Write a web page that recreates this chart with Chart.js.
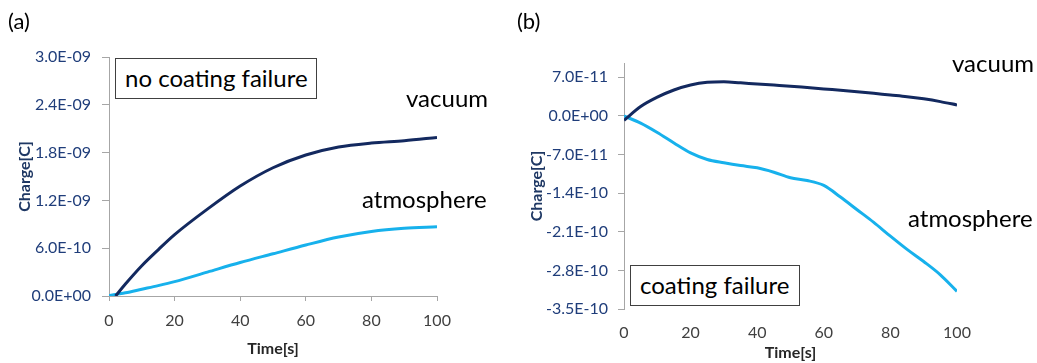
<!DOCTYPE html>
<html>
<head>
<meta charset="utf-8">
<title>Charge vs time</title>
<script src="https://cdn.jsdelivr.net/npm/chart.js@4.4.1/dist/chart.umd.min.js"></script>
<style>
  body { margin: 0; background: #fff; width: 1037px; height: 363px; overflow: hidden; position: relative; font-family: Lato, sans-serif; }
  .panel { position: absolute; top: 0; height: 363px; }
  #panelA { left: 0; width: 517px; }
  #panelB { left: 517px; width: 520px; }
  .note { position: absolute; font-size: 24px; line-height: 24px; color: #000; white-space: nowrap; }
  .tag { position: absolute; font-size: 22px; line-height: 22px; color: #000; }
  .box { position: absolute; box-sizing: border-box; border: 1px solid #404040; background: #fff;
         font-size: 24px; line-height: 37px; padding-left: 9px; white-space: nowrap; }
</style>
</head>
<body>

<div class="panel" id="panelA"><canvas id="chartA" width="517" height="363"></canvas></div>
<div class="panel" id="panelB"><canvas id="chartB" width="520" height="363"></canvas></div>

<div class="tag" style="left:8px; top:10px;">(a)</div>
<div class="tag" style="left:517px; top:10px;">(b)</div>

<div class="box" style="left:115px; top:58px; width:202px; height:41px;">no coating failure</div>
<div class="note" style="left:406px; top:86px;">vacuum</div>
<div class="note" style="left:362px; top:187px;">atmosphere</div>

<div class="box" style="left:630px; top:265px; width:170px; height:41px;">coating failure</div>
<div class="note" style="left:952px; top:51px;">vacuum</div>
<div class="note" style="left:908px; top:206px;">atmosphere</div>

<script>
// (a) no coating failure
const timeA = [0, 2, 5, 10, 15, 20, 30, 40, 50, 60, 70, 80, 90, 100];
const vacuumA = [null, 0, 1.5e-10, 3.8e-10, 5.8e-10, 7.7e-10, 1.09e-9, 1.38e-9, 1.61e-9, 1.77e-9, 1.87e-9, 1.92e-9, 1.95e-9, 1.99e-9];
const atmosphereA = [0.05e-10, 0.2e-10, 0.4e-10, 0.85e-10, 1.3e-10, 1.8e-10, 3.0e-10, 4.2e-10, 5.3e-10, 6.4e-10, 7.4e-10, 8.1e-10, 8.5e-10, 8.7e-10];
const yTicksA = [0, 6e-10, 1.2e-9, 1.8e-9, 2.4e-9, 3e-9];
const yLabelsA = ['0.0E+00', '6.0E-10', '1.2E-09', '1.8E-09', '2.4E-09', '3.0E-09'];

// (b) coating failure
const timeB = [0, 5, 10, 15, 20, 25, 30, 35, 40, 45, 50, 55, 60, 65, 70, 75, 80, 85, 90, 95, 100];
const vacuumB = [-0.8e-11, 1.7e-11, 3.4e-11, 4.7e-11, 5.6e-11, 6.1e-11, 6.2e-11, 6.0e-11, 5.8e-11, 5.6e-11, 5.4e-11, 5.15e-11, 4.9e-11, 4.65e-11, 4.4e-11, 4.1e-11, 3.8e-11, 3.5e-11, 3.1e-11, 2.6e-11, 2.0e-11];
const atmosphereB = [0, -1.3e-11, -3.0e-11, -4.9e-11, -6.7e-11, -7.9e-11, -8.5e-11, -9.0e-11, -9.4e-11, -1.02e-10, -1.12e-10, -1.17e-10, -1.26e-10, -1.47e-10, -1.70e-10, -1.93e-10, -2.18e-10, -2.42e-10, -2.64e-10, -2.88e-10, -3.18e-10];
const yTicksB = [-3.5e-10, -2.8e-10, -2.1e-10, -1.4e-10, -7e-11, 0, 7e-11];
const yLabelsB = ['-3.5E-10', '-2.8E-10', '-2.1E-10', '-1.4E-10', '-7.0E-11', '0.0E+00', '7.0E-11'];

const xTicks = [0, 20, 40, 60, 80, 100];

const navy = '#13295f';
const sky = '#17b1ec';
const axisGray = '#a6a6a6';

function points(t, v) {
  return t.map((x, i) => ({ x: x, y: v[i] }));
}

function line(data, color) {
  return {
    data: data,
    borderColor: color,
    borderWidth: 3,
    pointRadius: 0,
    fill: false,
    cubicInterpolationMode: 'monotone'
  };
}

function buildChart(id, cfg) {
  return new Chart(document.getElementById(id), {
    type: 'line',
    data: {
      datasets: [
        line(points(cfg.time, cfg.vacuum), navy),
        line(points(cfg.time, cfg.atmosphere), sky)
      ]
    },
    options: {
      responsive: false,
      animation: false,
      devicePixelRatio: 1,
      layout: { padding: { left: 0, top: cfg.top, right: 80, bottom: 0 } },
      plugins: { legend: { display: false }, tooltip: { enabled: false } },
      scales: {
        x: {
          type: 'linear', min: 0, max: 100,
          afterBuildTicks: s => { s.ticks = xTicks.map(v => ({ value: v })); },
          afterFit: s => { s.height = cfg.xHeight; },
          ticks: { color: '#404040', font: { family: 'Lato', size: 16 }, padding: cfg.xPad, maxRotation: 0 },
          grid: cfg.xAxisLine
            ? { drawOnChartArea: false, tickLength: 5, color: axisGray }
            : { display: false, drawTicks: false, tickLength: 0 },
          border: { display: cfg.xAxisLine, color: axisGray },
          title: {
            display: true, text: 'Time[s]', color: '#262626',
            font: { family: 'Lato', size: 16, weight: 'bold' },
            padding: { top: 0, bottom: cfg.xTitlePad }
          }
        },
        y: {
          type: 'linear', min: cfg.yMin, max: cfg.yMax,
          afterBuildTicks: s => { s.ticks = cfg.yTicks.map(v => ({ value: v })); },
          afterFit: s => { s.width = cfg.yWidth; },
          ticks: {
            callback: (v, i) => cfg.yLabels[i],
            color: '#1f3d7a', font: { family: 'Lato', size: 16 }, padding: cfg.yPad
          },
          grid: { drawOnChartArea: false, tickLength: cfg.yTick, color: axisGray },
          border: { color: axisGray },
          title: {
            display: true, text: 'Charge[C]', color: '#1f3864',
            font: { family: 'Lato', size: 16, weight: 'bold' },
            padding: { top: cfg.yTitlePad, bottom: 0 }
          }
        }
      }
    }
  });
}

buildChart('chartA', {
  time: timeA, vacuum: vacuumA, atmosphere: atmosphereA,
  yMin: 0, yMax: 3e-9, yTicks: yTicksA, yLabels: yLabelsA,
  top: 57, yWidth: 109, yPad: 11, yTick: 7, yTitlePad: 15,
  xHeight: 67, xPad: 10, xTitlePad: 5, xAxisLine: true
});

buildChart('chartB', {
  time: timeB, vacuum: vacuumB, atmosphere: atmosphereB,
  yMin: -3.5e-10, yMax: 9.6e-11, yTicks: yTicksB, yLabels: yLabelsB,
  top: 63, yWidth: 107, yPad: 10, yTick: 6, yTitlePad: 10,
  xHeight: 54, xPad: 14, xTitlePad: 1, xAxisLine: false
});
</script>
</body>
</html>
